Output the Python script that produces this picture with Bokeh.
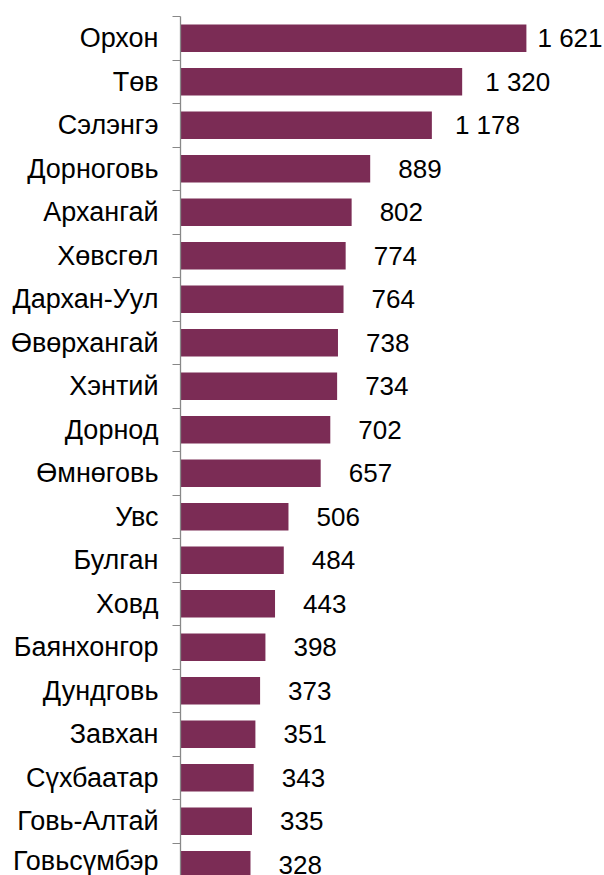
from bokeh.plotting import figure
from bokeh.models import ColumnDataSource, Range1d, LinearAxis, FixedTicker
from bokeh.core.properties import value
from bokeh.embed import file_html
from bokeh.resources import INLINE

categories = ["Орхон", "Төв", "Сэлэнгэ", "Дорноговь", "Архангай", "Хөвсгөл",
              "Дархан-Уул", "Өвөрхангай", "Хэнтий", "Дорнод", "Өмнөговь", "Увс",
              "Булган", "Ховд", "Баянхонгор", "Дундговь", "Завхан", "Сүхбаатар",
              "Говь-Алтай", "Говьсүмбэр"]
values = [1621, 1320, 1178, 889, 802, 774, 764, 738, 734, 702, 657, 506,
          484, 443, 398, 373, 351, 343, 335, 328]

BAR_COLOR = "#7B2C55"
FONT = "Liberation Sans"
FS_CAT = 27
FS_VAL = 26

W, H = 604, 875
LEFT, TOP = 180, 16
X_END = 1987
CAT_PX = 43.5
visible = (H - TOP) / CAT_PX

n = len(categories)
ys = [i + 0.5 for i in range(n)]
labels = [f"{v:,}".replace(",", " ") for v in values]

frame_w = W - LEFT
ppu = frame_w / X_END
lx = []
for v, s in zip(values, labels):
    wpx = FS_VAL * (0.556 * sum(c.isdigit() for c in s) + 0.278 * s.count(" "))
    c = v + (38 + 0.27 * wpx) / ppu
    if c + (wpx / 2) / ppu > X_END - 2 / ppu:
        c = X_END - (2 + wpx / 2) / ppu
    lx.append(c)

src = ColumnDataSource(dict(y=ys, v=values, lab=labels, lx=lx))

p = figure(width=W, height=H, output_backend="svg", toolbar_location=None,
           x_range=Range1d(0, X_END), y_range=Range1d(visible, 0),
           x_axis_location=None, y_axis_location=None,
           min_border_left=LEFT, min_border_top=TOP, min_border_bottom=0,
           min_border_right=0)
p.outline_line_color = None
p.xgrid.visible = False
p.ygrid.visible = False
p.background_fill_color = "white"
p.border_fill_color = "white"

p.hbar(y="y", left=0, right="v", height=0.63, source=src,
       fill_color=BAR_COLOR, line_color=None)

p.text(x="lx", y="y", text="lab", source=src, text_align="center",
       text_baseline="middle", text_font=value(FONT),
       text_font_size=f"{FS_VAL}px", text_color="black")

ax = LinearAxis(ticker=FixedTicker(ticks=ys, minor_ticks=list(range(n + 1))),
                major_label_overrides={y: c for y, c in zip(ys, categories)})
ax.major_tick_out = 0
ax.major_tick_in = 0
ax.minor_tick_out = 8
ax.minor_tick_in = 0
ax.minor_tick_line_color = "#888888"
ax.axis_line_color = "#888888"
ax.axis_line_width = 1.3
ax.major_label_standoff = 14
ax.major_label_text_font = FONT
ax.major_label_text_font_size = f"{FS_CAT}px"
ax.major_label_text_color = "black"
p.add_layout(ax, "left")

open("out.html", "w").write(file_html(p, INLINE))
